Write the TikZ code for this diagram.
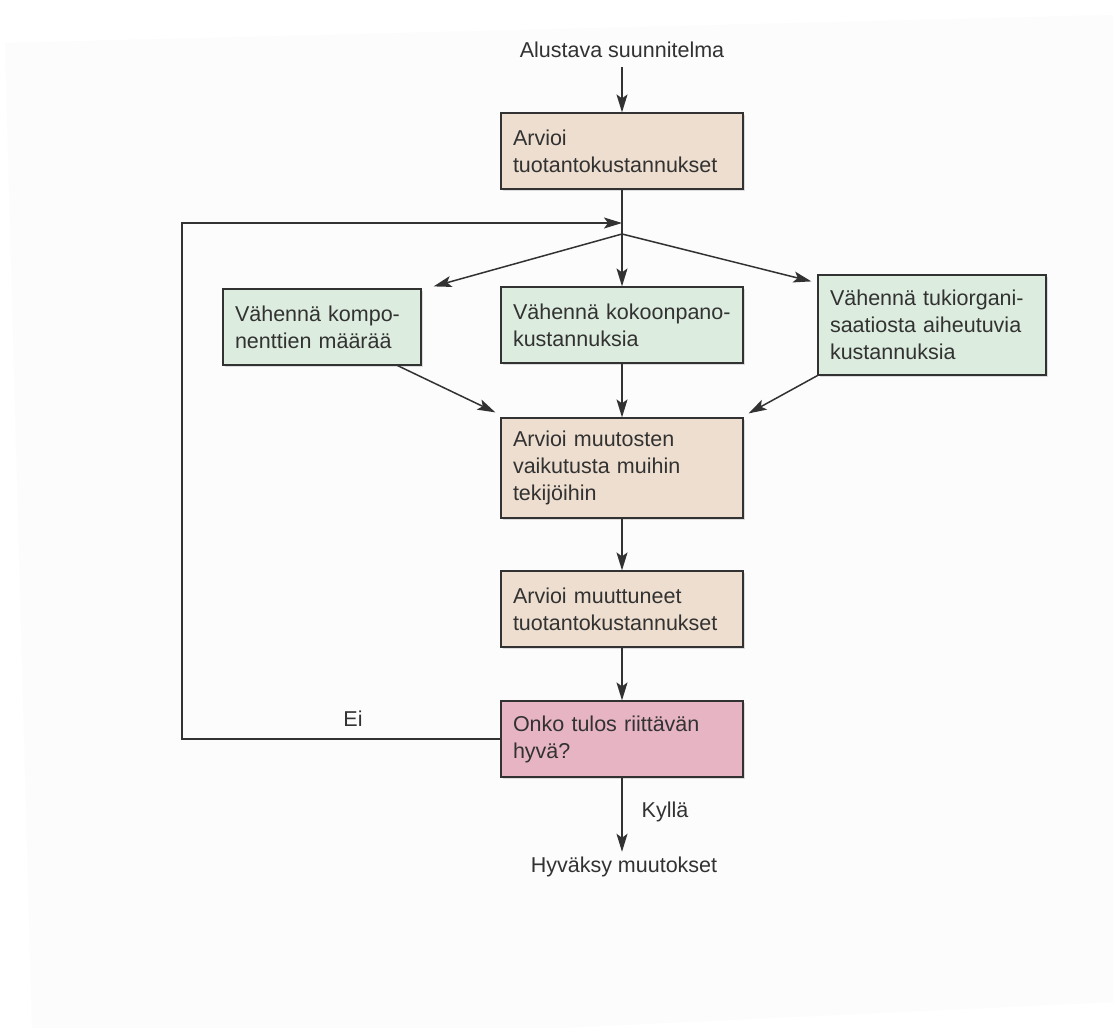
\documentclass[tikz,border=0pt]{standalone}
\usepackage{fontspec}
\setmainfont{Liberation Sans}
\usetikzlibrary{arrows.meta,calc,shadows}
\definecolor{tanfill}{RGB}{238,222,207}
\definecolor{greenfill}{RGB}{220,236,222}
\definecolor{pinkfill}{RGB}{231,180,196}
\definecolor{ink}{RGB}{50,50,50}
\definecolor{pagebg}{RGB}{252,252,252}
\begin{document}
\begin{tikzpicture}[x=1pt,y=-1pt,
  every node/.style={text=ink, font=\fontsize{21.5}{27}\selectfont},
  box/.style={draw=ink, line width=1.2pt, inner xsep=12pt, inner ysep=0pt, align=left,
    drop shadow={shadow xshift=1.5pt, shadow yshift=-2pt, opacity=0.25}},
  tanbox/.style={box, fill=tanfill},
  greenbox/.style={box, fill=greenfill},
  pinkbox/.style={box, fill=pinkfill},
  lbl/.style={inner sep=0pt},
  conn/.style={draw=ink, line width=1.5pt, -{Stealth[length=18pt,width=11pt,inset=4pt]}},
  plain/.style={draw=ink, line width=1.5pt}
]
\useasboundingbox (0,0) rectangle (1113,1028);
\fill[white] (0,0) rectangle (1113,1028);
\fill[pagebg] (5,43) -- (1113,15) -- (1113,1002) -- (559,1028) -- (32,1028) -- cycle;

% nodes
\node[lbl] (start) at (622,50) {Alustava suunnitelma};
\node[tanbox, text width=218pt, minimum height=76pt] (b1) at (622,151) {Arvioi\\tuotantokustannukset};
\node[greenbox, text width=174pt, minimum height=76pt] (gL) at (322,327) {Vähennä kompo-\\nenttien määrää};
\node[greenbox, text width=218pt, minimum height=76pt] (gM) at (622,325) {Vähennä kokoonpano-\\kustannuksia};
\node[greenbox, text width=204pt, minimum height=100pt] (gR) at (932,325) {Vähennä tukiorgani-\\saatiosta aiheutuvia\\kustannuksia};
\node[tanbox, text width=218pt, minimum height=100pt] (b3) at (622,468) {Arvioi muutosten\\vaikutusta muihin\\tekijöihin};
\node[tanbox, text width=218pt, minimum height=76pt] (b4) at (622,609) {Arvioi muuttuneet\\tuotantokustannukset};
\node[pinkbox, text width=218pt, minimum height=76pt] (b5) at (622,739) {Onko tulos riittävän\\hyvä?};
\node[lbl] (done) at (624,867) {Hyväksy muutokset};
\node[lbl] (yes) at (665,812) {Kyllä};
\node[lbl] (no) at (353,719) {Ei};

\coordinate (J) at (622,234);
\coordinate (F) at (622,223);
\coordinate (L) at (182,223);

% connectors
\draw[conn, shorten <=9pt] (start.south -| b1.north) -- (b1.north);
\draw[plain] (b1.south) -- (J);
\draw[conn] (J) -- (gM.north);
\draw[conn] (J) -- ($(gL.north east)+(12,-2)$);
\draw[conn] (J) -- ($(gR.north west)+(-6,7)$);
\draw[conn] ($(gL.south east)+(-24,0)$) -- ($(b3.north west)+(-5,-5)$);
\draw[conn] (gM.south) -- (b3.north);
\draw[conn] (gR.south west) -- ($(b3.north east)+(5,-4)$);
\draw[conn] (b3.south) -- (b4.north);
\draw[conn] (b4.south) -- (b5.north);
\draw[conn] (b5.west) -- (b5.west -| L) -- (L) -- (F);
\draw[conn, shorten >=5pt] (b5.south) -- (b5.south |- done.north);
\end{tikzpicture}
\end{document}
